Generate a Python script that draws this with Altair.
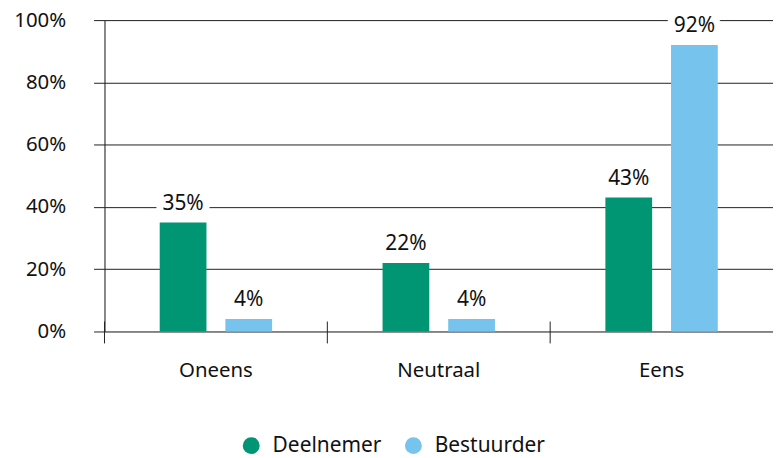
import altair as alt
import pandas as pd

categories = ["Oneens", "Neutraal", "Eens"]
series = ["Deelnemer", "Bestuurder"]
deelnemer = [35, 22, 43]
bestuurder = [4, 4, 92]
colors = ["#009673", "#76C3EE"]
y_ticks = [0, 20, 40, 60, 80, 100]

rows = []
for i, c in enumerate(categories):
    rows.append({"cat": c, "serie": series[0], "value": deelnemer[i], "label": f"{deelnemer[i]}%"})
    rows.append({"cat": c, "serie": series[1], "value": bestuurder[i], "label": f"{bestuurder[i]}%"})
df = pd.DataFrame(rows)
cat_df = pd.DataFrame({"cat": categories})

FONT = "Noto Sans"
LINE = "#222222"

x = alt.X("cat:N", sort=categories, title=None,
          scale=alt.Scale(paddingInner=0, paddingOuter=0),
          axis=alt.Axis(domain=False, ticks=False, labelPadding=29, labelAngle=0,
                        labelFontSize=20.5, labelFont=FONT, labelColor="#111111"))
xo = alt.XOffset("serie:N", sort=series,
                 scale=alt.Scale(paddingInner=0.288, paddingOuter=0.841))
y = alt.Y("value:Q", title=None,
          scale=alt.Scale(domain=[0, 100]),
          axis=alt.Axis(values=y_ticks, labelExpr="datum.value + '%'",
                        grid=True, gridColor=LINE, gridWidth=1, gridOpacity=1,
                        domainColor=LINE, tickColor=LINE, tickSize=11,
                        labelPadding=28, labelFontSize=20.5, labelFont=FONT,
                        labelColor="#111111"))

bars = alt.Chart(df).mark_bar().encode(
    x=x, xOffset=xo, y=y,
    color=alt.Color("serie:N", sort=series, scale=alt.Scale(domain=series, range=colors),
                    legend=alt.Legend(title=None, orient="none", legendX=137, legendY=417,
                                      direction="horizontal", symbolType="circle",
                                      symbolSize=289, symbolStrokeWidth=0,
                                      labelFontSize=21, labelFont=FONT, labelColor="#111111",
                                      labelOffset=11, columnPadding=21, padding=0)),
)

halo = alt.Chart(df).mark_text(baseline="bottom", dy=-9, fontSize=21, font=FONT,
                               stroke="white", strokeWidth=14, strokeJoin="round",
                               fill="white").encode(
    x=x, xOffset=xo, y=alt.Y("value:Q"), text="label:N"
)
labels = alt.Chart(df).mark_text(baseline="bottom", dy=-9, fontSize=21, font=FONT,
                                 color="#111111").encode(
    x=x, xOffset=xo, y=alt.Y("value:Q"), text="label:N"
)

dividers = alt.Chart(cat_df).mark_rule(color=LINE, strokeWidth=1).encode(
    x=alt.X("cat:N", sort=categories, bandPosition=0),
    y=alt.value(303), y2=alt.value(325)
)

chart = alt.layer(bars, halo, labels, dividers).properties(
    width=672, height=313,
    autosize=alt.AutoSizeParams(type="none"),
    padding={"left": 97, "top": 11, "right": 0, "bottom": 125},
).configure_view(stroke=None).configure(font=FONT)

chart.save("out.html", embed_options={"renderer": "svg", "actions": False})
